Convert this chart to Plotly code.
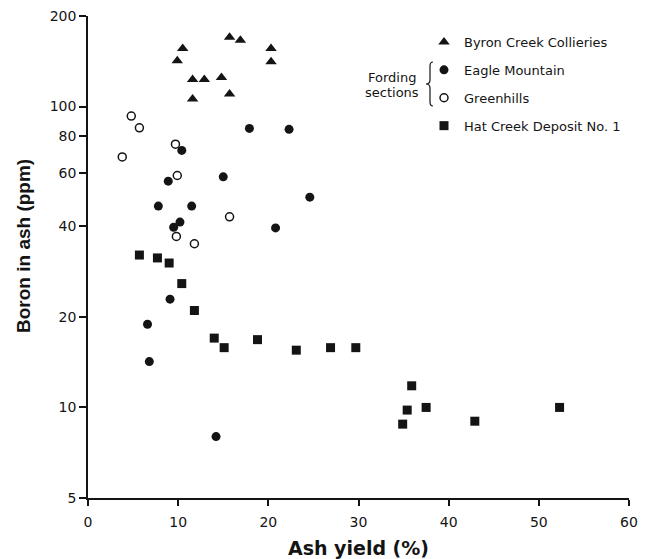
import plotly.graph_objects as go

# ---- data ----
byron_x = [9.9, 10.5, 11.6, 12.9, 11.6, 14.8, 15.7, 15.7, 16.9, 20.3, 20.3]
byron_y = [142, 156, 123, 123, 106, 125, 110, 170, 166, 156, 141]

eagle_x = [10.4, 8.9, 7.8, 11.5, 9.5, 10.2, 15.0, 17.9, 22.3, 24.6, 20.8, 9.1, 6.6, 6.8, 14.2]
eagle_y = [71.5, 56.5, 46.7, 46.7, 39.7, 41.3, 58.4, 84.6, 84.0, 50.0, 39.5, 22.9, 18.9, 14.2, 8.0]

green_x = [4.8, 5.7, 3.8, 9.7, 9.9, 15.7, 9.8, 11.8]
green_y = [93, 85, 68, 75, 59, 43, 37, 35]

hat_x = [5.7, 7.7, 9.0, 10.4, 11.8, 14.0, 15.1, 18.8, 23.1, 26.9, 29.7, 35.9, 35.4, 37.5, 34.9, 42.9, 52.3]
hat_y = [32.1, 31.4, 30.2, 25.8, 21.0, 17.0, 15.8, 16.8, 15.5, 15.8, 15.8, 11.8, 9.8, 10.0, 8.8, 9.0, 10.0]

series_names = ["Byron Creek Collieries", "Eagle Mountain", "Greenhills", "Hat Creek Deposit No. 1"]
y_ticks = [5, 10, 20, 40, 60, 80, 100, 200]
x_ticks = [0, 10, 20, 30, 40, 50, 60]

INK = "#141414"
W, H = 650, 559
ML, MR, MT, MB = 88, 21, 16, 61
PW, PH = W - ML - MR, H - MT - MB


def px(xp):
    return (xp - ML) / PW


def py(yp):
    return (H - MB - yp) / PH


fig = go.Figure()
fig.add_trace(go.Scatter(x=byron_x, y=byron_y, mode="markers", name=series_names[0],
                         legendgroup="a",
                         marker=dict(symbol="triangle-up", size=10, color=INK)))
fig.add_trace(go.Scatter(x=eagle_x, y=eagle_y, mode="markers", name=series_names[1],
                         legendgroup="b",
                         marker=dict(symbol="circle", size=9, color=INK)))
fig.add_trace(go.Scatter(x=green_x, y=green_y, mode="markers", name=series_names[2],
                         legendgroup="c",
                         marker=dict(symbol="circle", size=8, color="white",
                                     line=dict(color=INK, width=1.5))))
fig.add_trace(go.Scatter(x=hat_x, y=hat_y, mode="markers", name=series_names[3],
                         legendgroup="d",
                         marker=dict(symbol="square", size=9, color=INK)))

# brace for "Fording sections"
path = (f"M {px(433)},{py(62)} Q {px(430)},{py(62)} {px(430)},{py(66)} "
        f"L {px(430)},{py(80)} Q {px(430)},{py(84)} {px(426)},{py(84)} "
        f"Q {px(430)},{py(84)} {px(430)},{py(88)} "
        f"L {px(430)},{py(102)} Q {px(430)},{py(106)} {px(433)},{py(106)}")

fig.update_layout(
    width=W, height=H,
    margin=dict(l=ML, r=MR, t=MT, b=MB, pad=0, autoexpand=False),
    paper_bgcolor="white", plot_bgcolor="white",
    font=dict(family="DejaVu Sans", color=INK, size=14),
    showlegend=True,
    legend=dict(x=px(424), y=py(27), xanchor="left", yanchor="top",
                traceorder="grouped", tracegroupgap=8,
                font=dict(family="DejaVu Sans", size=13, color=INK),
                bgcolor="rgba(0,0,0,0)", borderwidth=0),
    xaxis=dict(range=[0, 60], tickvals=x_ticks, ticktext=[str(v) for v in x_ticks],
               automargin=False,
               showline=True, linecolor=INK, linewidth=1.5, mirror=False,
               ticks="outside", ticklen=6, tickwidth=1.5, tickcolor=INK,
               ticklabelstandoff=4,
               showgrid=False, zeroline=False,
               tickfont=dict(family="DejaVu Sans", size=14, color=INK),
               title=dict(text="<b>Ash yield (%)</b>", standoff=14,
                          font=dict(family="DejaVu Sans", size=19, color=INK))),
    yaxis=dict(type="log", range=[0.69897, 2.30103], tickvals=y_ticks,
               ticktext=[str(v) for v in y_ticks],
               automargin=False,
               showline=True, linecolor=INK, linewidth=1.5, mirror=False,
               ticks="outside", ticklen=7, tickwidth=1.5, tickcolor=INK,
               showgrid=False, zeroline=False,
               tickfont=dict(family="DejaVu Sans", size=14, color=INK)),
    annotations=[
        dict(text="<b>Boron in ash (ppm)</b>", xref="paper", yref="paper",
             x=px(24), y=py(246), xanchor="center", yanchor="middle",
             textangle=-90, showarrow=False,
             font=dict(family="Liberation Sans", size=19, color=INK)),
        dict(text="Fording", xref="paper", yref="paper",
             x=px(392), y=py(77), xanchor="center", yanchor="middle",
             showarrow=False,
             font=dict(family="DejaVu Sans", size=13, color=INK)),
        dict(text="sections", xref="paper", yref="paper",
             x=px(392), y=py(92), xanchor="center", yanchor="middle",
             showarrow=False,
             font=dict(family="DejaVu Sans", size=13, color=INK)),
    ],
    shapes=[dict(type="path", path=path, xref="paper", yref="paper",
                 line=dict(color=INK, width=1.2))],
)

fig.write_html("out.html")
